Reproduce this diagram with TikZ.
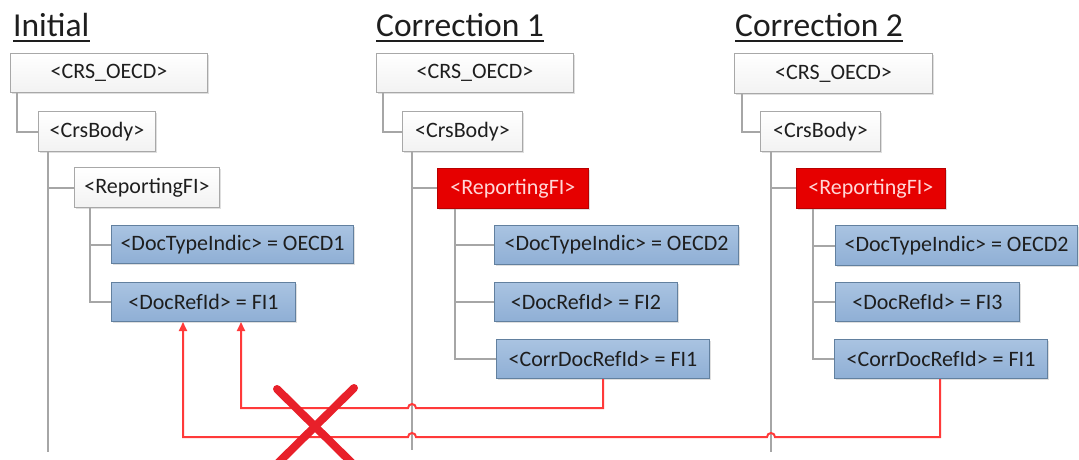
\documentclass[tikz,border=0pt]{standalone}
\usepackage{fontspec}
\setmainfont{Carlito}
\usetikzlibrary{arrows.meta,calc,shadows}
\definecolor{tgray}{HTML}{A6A6A6}
\definecolor{wborder}{HTML}{A8A8A8}
\definecolor{btop}{HTML}{A9C3E1}
\definecolor{bbot}{HTML}{8FAFD5}
\definecolor{bborder}{HTML}{62809F}
\definecolor{rfill}{HTML}{E60000}
\definecolor{rtext}{HTML}{FFD6D6}
\definecolor{rline}{HTML}{FF3A3A}
\definecolor{xred}{HTML}{E8202A}
\definecolor{txt}{HTML}{1E1E1E}
\tikzset{
  base/.style={rectangle, anchor=north west, inner sep=0pt, align=center,
    font=\fontsize{22}{24}\selectfont, text=txt,
    drop shadow={shadow xshift=1.5pt, shadow yshift=-1.5pt, opacity=0.25}},
  wbox/.style={base, draw=wborder, line width=1pt, top color=white, bottom color=gray!10},
  bbox/.style={base, draw=bborder, line width=1pt, top color=btop, bottom color=bbot},
  rbox/.style={base, draw=rfill!80!black, line width=0.8pt, fill=rfill, text=rtext},
  tl/.style={draw=tgray, line width=2pt},
  rl/.style={draw=rline, line width=2pt},
  ttl/.style={anchor=base west, inner sep=0pt, font=\fontsize{33.5}{36}\selectfont, text=txt},
  ul/.style={draw=txt, line width=2pt}
}
\begin{document}
\begin{tikzpicture}[x=1pt,y=-1pt]
\useasboundingbox (0,0) rectangle (1079,460);

% titles
\node[ttl] (t1) at (13,37) {Initial};
\node[ttl] (t2) at (376,37) {Correction 1};
\node[ttl] (t3) at (735,37) {Correction 2};
\foreach \t in {t1,t2,t3}{
  \draw[ul] ([yshift=-4.5pt]\t.base west) -- ([yshift=-4.5pt]\t.base east);
}

% Initial
\node[wbox, minimum width=197pt, minimum height=39pt] (crs1) at (10,53) {<CRS\_OECD>};
\node[wbox, minimum width=117pt, minimum height=40pt] (body1) at (38,111) {<CrsBody>};
\node[wbox, minimum width=145pt, minimum height=40pt] (rep1) at (74,167) {<ReportingFI>};
\node[bbox, minimum width=242pt, minimum height=38pt] (dti1) at (111,225) {<DocTypeIndic> = OECD1};
\node[bbox, minimum width=184pt, minimum height=39pt] (dri1) at (111,282) {<DocRefId> = FI1};

% Correction 1
\node[wbox, minimum width=197pt, minimum height=39pt] (crs2) at (376,53) {<CRS\_OECD>};
\node[wbox, minimum width=120pt, minimum height=40pt] (body2) at (402,111) {<CrsBody>};
\node[rbox, minimum width=151pt, minimum height=40pt] (rep2) at (437,168) {<ReportingFI>};
\node[bbox, minimum width=244pt, minimum height=39pt] (dti2) at (494,225) {<DocTypeIndic> = OECD2};
\node[bbox, minimum width=183pt, minimum height=39pt] (dri2) at (494,282) {<DocRefId> = FI2};
\node[bbox, minimum width=213pt, minimum height=39pt] (cdr2) at (496,339) {<CorrDocRefId> = FI1};

% Correction 2
\node[wbox, minimum width=198pt, minimum height=40pt] (crs3) at (734,53) {<CRS\_OECD>};
\node[wbox, minimum width=120pt, minimum height=40pt] (body3) at (760,111) {<CrsBody>};
\node[rbox, minimum width=149pt, minimum height=40pt] (rep3) at (796,168) {<ReportingFI>};
\node[bbox, minimum width=242pt, minimum height=40pt] (dti3) at (835,225) {<DocTypeIndic> = OECD2};
\node[bbox, minimum width=184pt, minimum height=39pt] (dri3) at (835,282) {<DocRefId> = FI3};
\node[bbox, minimum width=213pt, minimum height=39pt] (cdr3) at (834,339) {<CorrDocRefId> = FI1};

% free ends of the long tree lines
\coordinate (e1) at (48,452);
\coordinate (e2) at (412,450);
\coordinate (e3) at (771,452);

% tree lines: Initial
\draw[tl] ([xshift=7pt]crs1.south west) |- (body1.west);
\draw[tl] ([xshift=10pt]body1.south west) -- (e1);
\draw[tl] (rep1.west) -- (rep1.west -| e1);
\draw[tl] ([xshift=16pt]rep1.south west) |- (dti1.west);
\draw[tl] ([xshift=16pt]rep1.south west) |- (dri1.west);

% tree lines: Correction 1
\draw[tl] ([xshift=7pt]crs2.south west) |- (body2.west);
\draw[tl] ([xshift=10pt]body2.south west) -- (e2);
\draw[tl] (rep2.west) -- (rep2.west -| e2);
\draw[tl] ([xshift=18pt]rep2.south west) |- (dti2.west);
\draw[tl] ([xshift=18pt]rep2.south west) |- (dri2.west);
\draw[tl] ([xshift=18pt]rep2.south west) |- (cdr2.west);

% tree lines: Correction 2
\draw[tl] ([xshift=8pt]crs3.south west) |- (body3.west);
\draw[tl] ([xshift=11pt]body3.south west) -- (e3);
\draw[tl] (rep3.west) -- (rep3.west -| e3);
\draw[tl] ([xshift=17pt]rep3.south west) |- (dti3.west);
\draw[tl] ([xshift=17pt]rep3.south west) |- (dri3.west);
\draw[tl] ([xshift=17pt]rep3.south west) |- (cdr3.west);

% red reference connectors
\coordinate (yu) at (0,408);
\coordinate (yl) at (0,437);
\draw[rl, {Triangle[length=9pt,width=8pt]}-]
  ([xshift=130pt]dri1.south west) |- ($(e2 |- yu)+(-4,0)$)
  arc[start angle=180, end angle=0, radius=4pt]
  -| ([xshift=107pt]cdr2.south west);
\draw[rl, {Triangle[length=9pt,width=8pt]}-]
  ([xshift=72pt]dri1.south west) |- ($(e2 |- yl)+(-4,0)$)
  arc[start angle=180, end angle=0, radius=4pt]
  -- ($(e3 |- yl)+(-4,0)$)
  arc[start angle=180, end angle=0, radius=4pt]
  -| ([xshift=106pt]cdr3.south west);

% big red cross
\begin{scope}
\clip (0,0) rectangle (1079,460);
\draw[xred, line width=8pt, line cap=round] (277,389) -- (352,463);
\draw[xred, line width=8pt, line cap=round] (354,388) -- (278,463);
\end{scope}
\end{tikzpicture}
\end{document}
